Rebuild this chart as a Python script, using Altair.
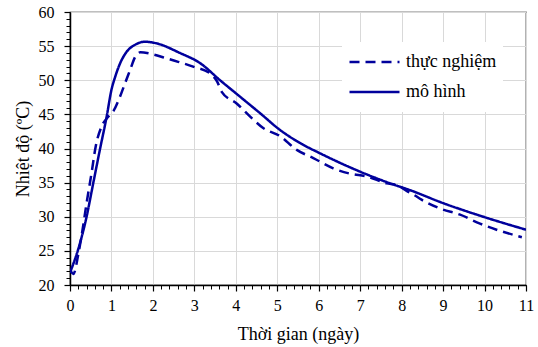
import altair as alt
import pandas as pd

# model (solid)
model_x = [0, 0.24, 0.40, 0.56, 0.72, 0.885, 1.0, 1.09, 1.21, 1.37, 1.57, 1.81, 2.09, 2.65,
           3.14, 3.62, 4.10, 4.58, 5.07, 5.55, 6.03, 7.0, 7.72, 8.2, 9.0, 9.97, 11.0]
model_y = [21.8, 26.1, 30.0, 34.9, 39.8, 44.7, 48.6, 50.5, 52.5, 54.2, 55.2, 55.65, 55.4, 54.0,
           52.5, 50.0, 47.6, 45.2, 42.7, 40.8, 39.3, 36.6, 34.9, 33.9, 32.0, 30.0, 28.1]

# measured (dashed)
meas_x = [0, 0.08, 0.2, 0.3, 0.4, 0.52, 0.62, 0.76, 0.9, 1.05, 1.2, 1.33, 1.45, 1.57, 1.7,
          1.93, 2.33, 2.61, 2.97, 3.38, 3.55, 3.66, 4.02, 4.34, 4.66, 5.07, 5.47, 5.87, 6.35,
          6.76, 7.16, 7.64, 7.9, 8.12, 8.3, 8.48, 8.93, 9.41, 9.89, 10.29, 10.78, 10.9]
meas_y = [22.3, 21.6, 24.5, 28.0, 32.0, 36.4, 40.3, 43.2, 44.5, 45.5, 47.5, 49.6, 51.5, 53.4, 54.1,
          53.9, 53.2, 52.7, 52.0, 51.0, 49.8, 48.3, 46.6, 44.7, 43.0, 41.8, 39.8, 38.6, 37.1,
          36.3, 35.9, 34.9, 34.6, 33.8, 33.2, 32.5, 31.2, 30.3, 29.0, 28.1, 27.2, 27.0]

series_names = ["thực nghiệm", "mô hình"]
x_major = list(range(0, 12))
x_minor = [round(i * 0.2, 1) for i in range(0, 56)]
y_major = list(range(20, 61, 5))
y_minor = list(range(20, 61))

df = pd.concat([
    pd.DataFrame({"t": meas_x, "T": meas_y, "s": series_names[0], "o": range(len(meas_x))}),
    pd.DataFrame({"t": model_x, "T": model_y, "s": series_names[1], "o": range(len(model_x))}),
])

FONT = "Liberation Serif"
BLUE = "#00009c"

xs = alt.Scale(domain=[0, 11], nice=False)
ys = alt.Scale(domain=[20, 60], nice=False)

leg = alt.Legend(orient="none", legendX=272, legendY=30, title=None,
                 fillColor="white", padding=6, symbolType="stroke",
                 symbolSize=2500, symbolStrokeWidth=2.5, labelFont=FONT,
                 labelFontSize=18, labelColor="black", labelOffset=5,
                 clipHeight=28, rowPadding=2)

lines = alt.Chart(df).mark_line(strokeWidth=2.5, clip=True, interpolate="monotone").encode(
    x=alt.X("t:Q", scale=xs, axis=alt.Axis(
        values=x_major, title="Thời gian (ngày)", orient="bottom", grid=True,
        gridColor="#d9d9d9", gridWidth=1, tickSize=6, tickColor="black", domainColor="black",
        domainWidth=1.5, tickWidth=1.2, labelFont=FONT, labelFontSize=16, labelColor="black",
        labelPadding=6, titleFont=FONT, titleFontSize=18, titleFontWeight="normal",
        titleColor="black", titlePadding=12, labelFlush=False)),
    y=alt.Y("T:Q", scale=ys, axis=alt.Axis(
        values=y_major, title="Nhiệt độ (ºC)", orient="left", grid=True,
        gridColor="#d9d9d9", gridWidth=1, tickSize=6, tickColor="black", domainColor="black",
        domainWidth=1.5, tickWidth=1.2, labelFont=FONT, labelFontSize=16, labelColor="black",
        labelPadding=10, titleFont=FONT, titleFontSize=18, titleFontWeight="normal",
        titleColor="black", titlePadding=6, labelFlush=False)),
    color=alt.Color("s:N", scale=alt.Scale(domain=series_names, range=[BLUE, BLUE]), legend=leg),
    strokeDash=alt.StrokeDash("s:N", scale=alt.Scale(domain=series_names, range=[[10, 6], [1, 0]]),
                              legend=leg),
    order="o:Q",
)

minor = alt.Chart(df).mark_point(opacity=0).encode(
    x=alt.X("t:Q", scale=xs, axis=alt.Axis(values=x_minor, orient="bottom", labels=False, grid=False,
                                           tickSize=4, tickColor="black", domain=False, title=None,
                                           tickWidth=1)),
    y=alt.Y("T:Q", scale=ys, axis=alt.Axis(values=y_minor, orient="left", labels=False, grid=False,
                                           tickSize=4, tickColor="black", domain=False, title=None,
                                           tickWidth=1)),
)

chart = alt.layer(minor, lines).resolve_axis(x="independent", y="independent").properties(
    width=456, height=273,
    autosize=alt.AutoSizeParams(type="none"),
    padding={"left": 70, "top": 12, "right": 12, "bottom": 62},
).configure(font=FONT).configure_axis(labelFont=FONT, titleFont=FONT).configure_legend(
    labelFont=FONT).configure_view(stroke="black", strokeWidth=1.2)

chart.save("out.html", embed_options={"renderer": "svg", "actions": False})
